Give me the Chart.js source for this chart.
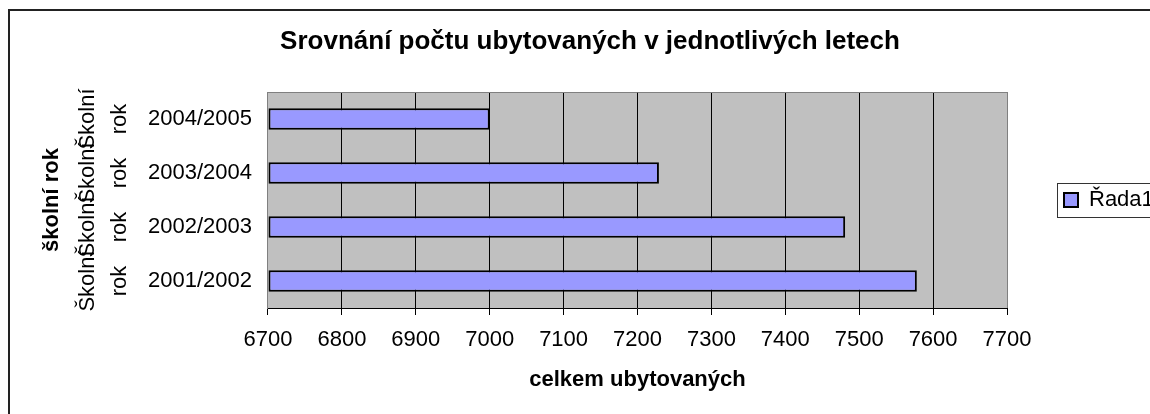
<!DOCTYPE html>
<html>
<head>
<meta charset="utf-8">
<script src="https://cdn.jsdelivr.net/npm/chart.js@4/dist/chart.umd.min.js"></script>
<style>
  html, body { margin: 0; padding: 0; background: #fff; width: 1150px; height: 414px; overflow: hidden; }
  #frame { position: absolute; left: 8px; top: 9px; width: 1300px; height: 600px;
           border-left: 2px solid #222; border-top: 2px solid #222; }
  #chart { position: absolute; left: 10px; top: 11px; }
</style>
</head>
<body>
<div id="frame"></div>
<canvas id="chart" width="1160" height="403"></canvas>
<script>
// chart data (Excel order: first category at the bottom)
const schoolYears = ["2001/2002", "2002/2003", "2003/2004", "2004/2005"];
const yearGroup = ["Školní rok", "Školní rok", "Školní rok", "Školní rok"];
const guests = [7578, 7481, 7229, 7000];
const seriesName = "Řada1";
const xMin = 6700;
const xMax = 7700;
const xStep = 100;

const chartTitle = "Srovnání počtu ubytovaných v jednotlivých letech";
const xTitle = "celkem ubytovaných";
const yTitle = "školní rok";

Chart.defaults.font.family = 'Arial, "Liberation Sans", sans-serif';
Chart.defaults.color = "#000";

// grey plot area like the old Excel default
const plotArea = {
  id: "plotArea",
  beforeDraw(chart) {
    const { ctx, chartArea: a } = chart;
    ctx.save();
    ctx.fillStyle = "#C0C0C0";
    ctx.fillRect(a.left, a.top, a.right - a.left, a.bottom - a.top);
    ctx.restore();
  },
  beforeDatasetsDraw(chart) {
    const { ctx, chartArea: a } = chart;
    ctx.save();
    ctx.strokeStyle = "#808080";
    ctx.lineWidth = 1;
    ctx.beginPath();
    ctx.moveTo(a.left, a.top + 0.5);
    ctx.lineTo(a.right + 0.5, a.top + 0.5);
    ctx.lineTo(a.right + 0.5, a.bottom);
    ctx.stroke();
    ctx.restore();
  }
};

// frame around the legend
const legendFrame = {
  id: "legendFrame",
  afterDraw(chart) {
    const hb = chart.legend && chart.legend.legendHitBoxes && chart.legend.legendHitBoxes[0];
    if (!hb) return;
    const { ctx } = chart;
    const cy = hb.top + hb.height / 2;
    ctx.save();
    ctx.strokeStyle = "#333";
    ctx.lineWidth = 1;
    ctx.strokeRect(Math.round(hb.left - 7) + 0.5, Math.round(cy - 17) + 0.5, 200, 34);
    ctx.restore();
  }
};

const lastTick = Math.round((xMax - xMin) / xStep);

new Chart(document.getElementById("chart"), {
  type: "bar",
  data: {
    labels: schoolYears,
    datasets: [{
      label: seriesName,
      data: guests,
      base: xMin,
      backgroundColor: "#9999FF",
      borderColor: "#000",
      borderWidth: 2,
      borderSkipped: false,
      categoryPercentage: 0.4,
      barPercentage: 1
    }]
  },
  options: {
    indexAxis: "y",
    responsive: false,
    animation: false,
    layout: { padding: { left: 12, right: 12, top: 0, bottom: 20.8 } },
    scales: {
      x: {
        type: "linear",
        min: xMin,
        max: xMax,
        ticks: {
          stepSize: xStep,
          font: { size: 22 },
          padding: 12,
          maxRotation: 0,
          callback: v => String(v)
        },
        grid: {
          color: c => (c.index === 0 || c.index === lastTick) ? "#808080" : "#000",
          tickColor: "#000",
          tickLength: 7,
          lineWidth: 1
        },
        border: { color: "#000", width: 1 },
        title: {
          display: true,
          text: xTitle,
          font: { size: 22, weight: "bold" },
          padding: { top: 1.4, bottom: 0 }
        }
      },
      y: {
        type: "category",
        reverse: true,
        offset: true,
        weight: 1,
        grid: { display: false, drawTicks: false },
        border: { display: true, color: "#808080", width: 1 },
        ticks: { font: { size: 22 }, padding: 8, crossAlign: "far", autoSkip: false }
      },
      yGroup: {
        type: "category",
        axis: "y",
        position: "left",
        labels: yearGroup.map(s => s.split(" ")),
        reverse: true,
        offset: true,
        weight: 2,
        grid: { display: false, drawTicks: false },
        border: { display: false },
        ticks: {
          font: { size: 22, lineHeight: 1.45 },
          padding: 13.4,
          minRotation: 90,
          maxRotation: 90,
          crossAlign: "center",
          autoSkip: false
        },
        title: {
          display: true,
          text: yTitle,
          font: { size: 22, weight: "bold" },
          padding: { top: 16.8, bottom: -7.8 }
        }
      }
    },
    plugins: {
      title: {
        display: true,
        text: chartTitle,
        font: { size: 26, weight: "bold" },
        padding: { top: 15.4, bottom: 34.4 }
      },
      legend: {
        position: "right",
        fullSize: false,
        maxWidth: 151,
        labels: {
          boxWidth: 14,
          boxHeight: 14,
          padding: 57,
          font: { size: 22 },
          color: "#000"
        }
      },
      tooltip: { enabled: false }
    }
  },
  plugins: [plotArea, legendFrame]
});
</script>
</body>
</html>
